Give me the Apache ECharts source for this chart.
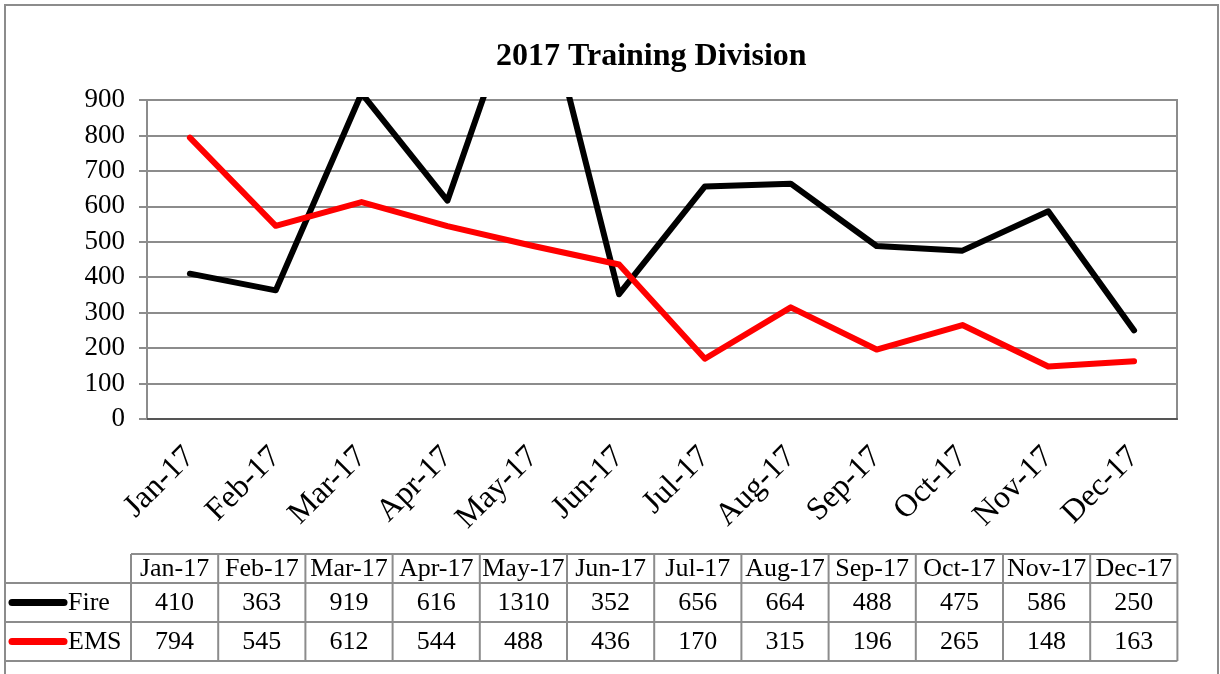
<!DOCTYPE html>
<html>
<head>
<meta charset="utf-8">
<script src="https://cdn.jsdelivr.net/npm/echarts@6/dist/echarts.min.js"></script>
<style>
  html, body { margin: 0; padding: 0; background: #fff; }
  #chart { width: 1220px; height: 674px; }
</style>
</head>
<body>
<div id="chart"></div>
<script>
// data
const months = ["Jan-17", "Feb-17", "Mar-17", "Apr-17", "May-17", "Jun-17",
  "Jul-17", "Aug-17", "Sep-17", "Oct-17", "Nov-17", "Dec-17"];
const fire = [410, 363, 919, 616, 1310, 352, 656, 664, 488, 475, 586, 250];
const ems = [794, 545, 612, 544, 488, 436, 170, 315, 196, 265, 148, 163];
const yTicks = [0, 100, 200, 300, 400, 500, 600, 700, 800, 900];

const font = "'Liberation Serif', 'DejaVu Serif', serif";
const gridCol = "#8c8c8c";

// data table under the chart
function buildTable() {
  const x0 = 131, colW = 87.2;
  const rows = [554, 583, 622, 661]; // header / Fire / EMS row edges
  const els = [];
  const line = (x1, y1, x2, y2) => ({
    type: "line",
    shape: { x1, y1, x2, y2 },
    style: { stroke: gridCol, lineWidth: 2 },
  });
  const txt = (text, x, y, align) => ({
    type: "text",
    x, y,
    style: { text, font: "26px " + font, fill: "#000", align: align || "center", verticalAlign: "middle" },
  });
  els.push(line(x0, rows[0], x0 + colW * 12, rows[0]));
  for (let r = 1; r < rows.length; r++) els.push(line(5, rows[r], x0 + colW * 12, rows[r]));
  for (let c = 0; c <= 12; c++) {
    els.push(line(x0 + colW * c, rows[0], x0 + colW * c, rows[3]));
  }
  months.forEach((m, i) => {
    const cx = x0 + colW * (i + 0.5);
    els.push(txt(m, cx, (rows[0] + rows[1]) / 2 + 1));
    els.push(txt(String(fire[i]), cx, (rows[1] + rows[2]) / 2 + 1));
    els.push(txt(String(ems[i]), cx, (rows[2] + rows[3]) / 2 + 1));
  });
  // legend keys
  [["Fire", "#000", 1], ["EMS", "#ff0000", 2]].forEach(([name, color, r]) => {
    const y = (rows[r] + rows[r + 1]) / 2;
    els.push({
      type: "line",
      shape: { x1: 12, y1: y, x2: 64, y2: y },
      style: { stroke: color, lineWidth: 7, lineCap: "round" },
    });
    els.push(txt(name, 68, y + 1, "left"));
  });
  return els;
}

const chart = echarts.init(document.getElementById("chart"));
chart.setOption({
  backgroundColor: "#fff",
  animation: false,
  title: {
    text: "2017 Training Division",
    left: 491,
    top: 36,
    textStyle: { fontFamily: font, fontSize: 32, fontWeight: "bold", color: "#000" },
  },
  grid: {
    left: 147, right: 43, top: 100, bottom: 255,
    show: true, borderColor: gridCol, borderWidth: 2,
  },
  xAxis: {
    type: "category",
    data: months,
    axisLine: { lineStyle: { color: "#555", width: 2 } },
    axisTick: { length: 9, lineStyle: { color: "#333", width: 2 } },
    axisLabel: { rotate: 45, margin: 33, fontFamily: font, fontSize: 32, color: "#000" },
    splitLine: { show: false },
  },
  yAxis: {
    type: "value",
    min: 0, max: 900, interval: 100,
    axisLine: { show: true, lineStyle: { color: gridCol, width: 2 } },
    axisTick: { show: true, length: 8, lineStyle: { color: gridCol, width: 2 } },
    axisLabel: {
      margin: 22, fontFamily: font, fontSize: 27, color: "#000",
      formatter: v => (yTicks.includes(v) ? String(v) : ""),
    },
    splitLine: { lineStyle: { color: gridCol, width: 2 } },
  },
  series: [
    {
      name: "Fire", type: "line", data: fire, clip: true,
      symbol: "none", lineStyle: { color: "#000", width: 6, cap: "round", join: "round" },
    },
    {
      name: "EMS", type: "line", data: ems, clip: true,
      symbol: "none", lineStyle: { color: "#ff0000", width: 6, cap: "round", join: "round" },
    },
  ],
  graphic: [
    {
      type: "rect",
      shape: { x: 5, y: 5, width: 1213, height: 720 },
      style: { fill: "none", stroke: gridCol, lineWidth: 2 },
      z: 0,
    },
    ...buildTable(),
  ],
});
</script>
</body>
</html>
